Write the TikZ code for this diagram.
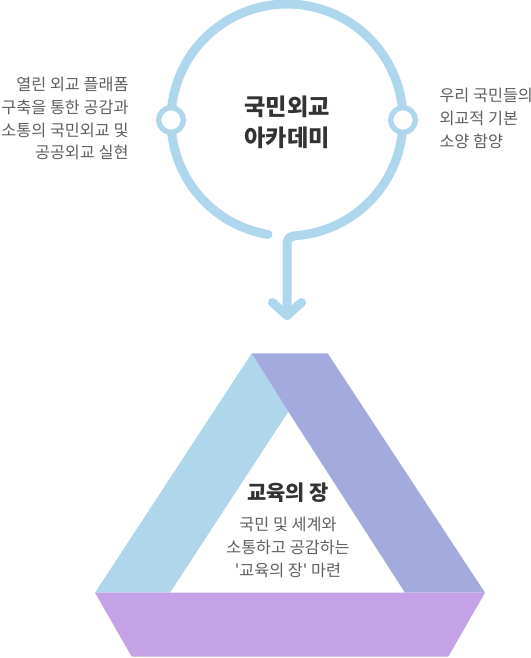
\documentclass[tikz,border=0pt]{standalone}
\usepackage{fontspec}
\newfontfamily\krfont{Noto Sans CJK KR}[Ligatures=TeXOff]

\definecolor{skyline}{RGB}{174,214,237}
\definecolor{bandblue}{RGB}{176,214,236}
\definecolor{bandviolet}{RGB}{163,170,222}
\definecolor{bandlilac}{RGB}{197,161,232}
\definecolor{inkdark}{RGB}{51,51,51}
\definecolor{inkgray}{RGB}{95,95,95}

\tikzset{every picture/.style={line width=0.75pt},
  ring/.style={draw=skyline, line width=6.75pt, line cap=round, line join=round},
  knob/.style={circle, draw=skyline, fill=white, line width=4pt, minimum size=18.5pt, inner sep=0pt},
  headline/.style={font=\krfont\bfseries\fontsize{17.4}{23.25}\selectfont, text=inkdark, align=center, inner sep=0.75pt},
  subhead/.style={font=\krfont\bfseries\fontsize{15.7}{18}\selectfont, text=inkdark, inner sep=0.75pt},
  note/.style={font=\krfont\fontsize{12.2}{17.2}\selectfont, text=inkgray, inner sep=0.75pt}
}

\begin{document}
\begin{tikzpicture}[x=0.75pt,y=0.75pt,yscale=-1,xscale=1]
%set diagram left start at 0, and has height of 658
\useasboundingbox (0,0) rectangle (531,658);

%Shape: Arc with drop [id:ring]
\coordinate (drop) at (287,246);
\coordinate (tip) at (287,315.5);
\draw [ring] (268.05,234.44) arc [start angle=99.4, end angle=445, radius=116] .. controls (289,236.3) and (287,238) .. (drop) -- (tip);
%Straight Lines [id:arrowhead]
\draw [ring] (272.5,302.5) -- (tip) -- (301.5,302.5);
%Shape: Circle [id:knobs]
\node [knob] (leftKnob) at (171,120) {};
\node [knob] (rightKnob) at (403,120) {};

%Shape: Polygon [id:bandLeft]
\fill [bandblue] (251.7,353.3) -- (288.3,411.7) -- (170,592.7) -- (95,592.7) -- cycle;
%Shape: Polygon [id:bandRight]
\fill [bandviolet] (251.7,353.3) -- (327.7,353.3) -- (485,592.7) -- (405,592.7) -- (288.3,411.7) -- cycle;
%Shape: Polygon [id:bandBottom]
\fill [bandlilac] (95,592.7) -- (485,592.7) -- (448.3,656.7) -- (131.7,656.7) -- cycle;

% Text Node
\node [headline] (academy) at (287,122.5) {국민외교\\아카데미};
% Text Node
\node [note, anchor=east, align=right] (leftNote) at (130,118.5) {열린 외교 플래폼\\구축을 통한 공감과\\소통의 국민외교 및\\공공외교 실현};
% Text Node
\node [note, anchor=west, align=left] (rightNote) at (438,118) {우리 국민들의\\외교적 기본\\소양 함양};
% Text Node
\node [subhead] (eduPlace) at (288,493) {교육의 장};
% Text Node
\node [note, align=center] (eduNote) at (288,547.3) {국민 및 세계와\\소통하고 공감하는\\'교육의 장' 마련};

\end{tikzpicture}
\end{document}
